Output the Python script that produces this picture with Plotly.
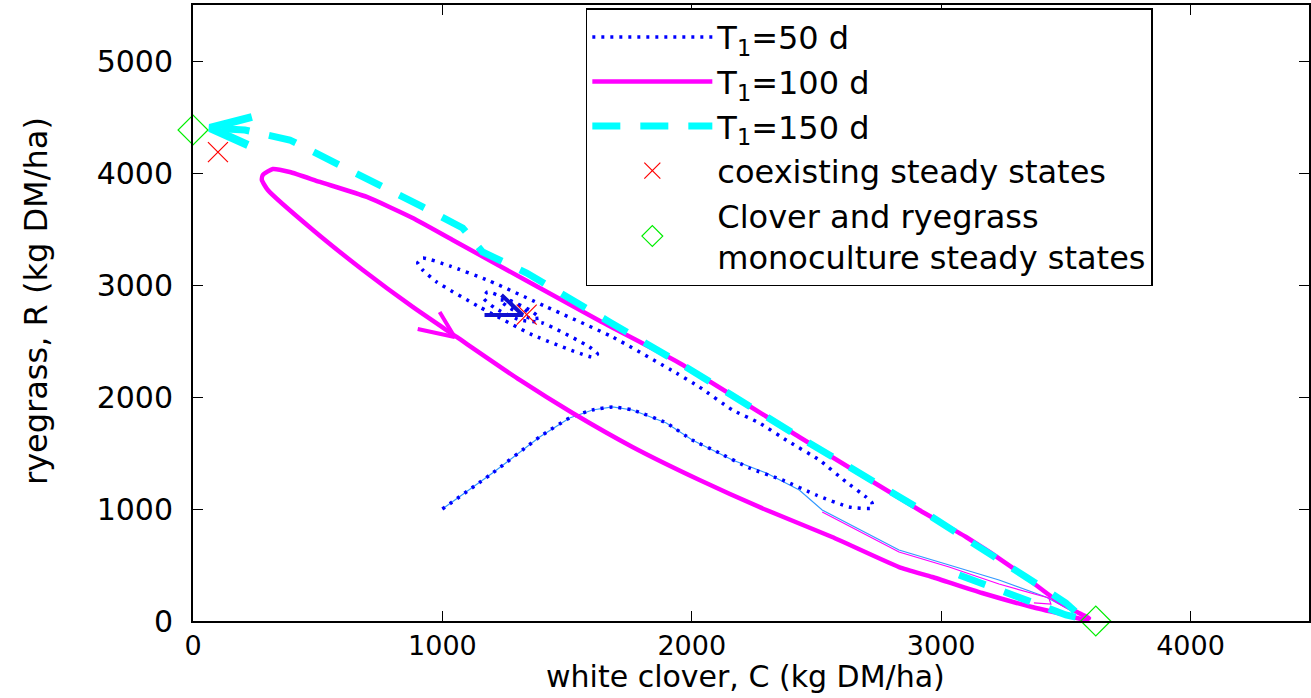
import plotly.graph_objects as go

# ---------------- data ----------------
# T1 = 50 d trajectory (blue dotted)
c50 = [1000, 1201, 1390, 1510, 1602, 1682, 1762, 1898, 2002, 2111, 2231, 2363, 2499, 2631, 2723,
       2723, 2699, 2619, 2511, 2391, 2271, 2163, 2031, 1938, 1682, 1418, 1189, 1029, 921, 901,
       921, 977, 1149, 1362, 1602, 1622, 1590, 1402, 1310, 1210, 1165, 1181, 1250, 1350, 1390,
       1350, 1270, 1230, 1290, 1342]
r50 = [1000, 1321, 1643, 1813, 1884, 1911, 1884, 1768, 1616, 1500, 1366, 1259, 1125, 1018, 1009,
       1054, 1107, 1241, 1438, 1598, 1768, 1884, 2089, 2214, 2536, 2804, 3036, 3170, 3241, 3197,
       3134, 3027, 2804, 2554, 2357, 2384, 2447, 2661, 2688, 2795, 2884, 2938, 2884, 2777, 2705,
       2705, 2795, 2866, 2848, 2759]

# initial transient (thin light-blue line)
c_thin = [1000, 1201, 1390, 1510, 1602, 1682, 1762, 1898, 2002, 2111, 2163, 2299, 2431, 2523,
          2699, 2831, 3032, 3232, 3420, 3532]
r_thin = [1000, 1321, 1643, 1813, 1884, 1911, 1884, 1768, 1616, 1500, 1438, 1321, 1170, 991,
          786, 634, 500, 366, 214, 80]

# T1 = 100 d transient (thin magenta)
c100_thin = [2523, 2699, 2831, 3032, 3232, 3432, 3440, 3372]
r100_thin = [973, 768, 616, 482, 330, 205, 152, 161]

# T1 = 100 d cycle (magenta solid)
c100 = [3593, 3552, 3460, 3300, 3100, 2912, 2431, 1950, 1630, 1041, 881, 697, 509, 388, 320,
        280, 276, 300, 481, 681, 881, 1057, 1310, 1522, 1762, 2031, 2299, 2563, 2831, 2964,
        3164, 3364, 3500, 3580, 3593]
r100 = [27, 71, 188, 455, 750, 991, 1643, 2304, 2681, 3402, 3598, 3786, 3920, 4009, 4036,
        3982, 3938, 3848, 3491, 3134, 2804, 2536, 2152, 1857, 1554, 1259, 991, 750, 482, 393,
        250, 125, 54, 9, 27]

# T1 = 150 d trajectory (cyan dashed)
c150 = [3072, 3312, 3500, 3572, 3552, 3500, 3340, 3192, 3032, 2900, 2431, 1950, 1670, 1502,
        1338, 1161, 1081, 921, 749, 577, 388, 208, 56]
r150 = [411, 205, 54, 18, 63, 161, 393, 607, 839, 1018, 1643, 2304, 2670, 2893, 3107, 3295,
        3509, 3697, 3893, 4089, 4295, 4384, 4402]

# direction arrows (arm, tip, arm)
arrow50_c = [1237, 1322, 1169]
arrow50_r = [2911, 2732, 2732]
arrow100_c = [989, 1049, 901]
arrow100_r = [2759, 2536, 2607]
arrow150_c = [236, 68, 220]
arrow150_r = [4500, 4402, 4250]

# steady states
coex_c = [100, 1338]
coex_r = [4187, 2735]
mono_c = [0, 3620]
mono_r = [4384, 0]

x_ticks = [0, 1000, 2000, 3000, 4000]
y_ticks = [0, 1000, 2000, 3000, 4000, 5000]

BLUE = "#0000ff"
MAGENTA = "#ff00ff"
CYAN = "#00ffff"
THINBLUE = "#3399ff"

fig = go.Figure()

fig.add_trace(go.Scatter(x=c_thin, y=r_thin, mode="lines", showlegend=False,
                         line=dict(color=THINBLUE, width=1.2), hoverinfo="skip"))
fig.add_trace(go.Scatter(x=c100_thin, y=r100_thin, mode="lines", showlegend=False,
                         line=dict(color=MAGENTA, width=1.2), hoverinfo="skip"))

fig.add_trace(go.Scatter(x=c50, y=r50, mode="lines", name="T<sub>1</sub>=50 d",
                         line=dict(color=BLUE, width=3.5, dash="3px,6px", shape="spline",
                                   smoothing=0.5)))
fig.add_trace(go.Scatter(x=c100, y=r100, mode="lines", name="T<sub>1</sub>=100 d",
                         line=dict(color=MAGENTA, width=4.5, shape="spline", smoothing=0.5)))
fig.add_trace(go.Scatter(x=c150, y=r150, mode="lines", name="T<sub>1</sub>=150 d",
                         line=dict(color=CYAN, width=7, dash="28px,20px")))

fig.add_trace(go.Scatter(x=arrow50_c, y=arrow50_r, mode="lines", showlegend=False,
                         line=dict(color="#1010d0", width=4)))
fig.add_trace(go.Scatter(x=arrow100_c, y=arrow100_r, mode="lines", showlegend=False,
                         line=dict(color=MAGENTA, width=4)))
fig.add_trace(go.Scatter(x=arrow150_c, y=arrow150_r, mode="lines", showlegend=False,
                         line=dict(color=CYAN, width=8)))

fig.add_trace(go.Scatter(x=coex_c, y=coex_r, mode="markers", name="coexisting steady states",
                         cliponaxis=False,
                         marker=dict(symbol="x-thin-open", size=20,
                                     line=dict(color="#ff0000", width=1.2), color="#ff0000")))
fig.add_trace(go.Scatter(x=mono_c, y=mono_r, mode="markers",
                         name="Clover and ryegrass<br>monoculture steady states",
                         cliponaxis=False,
                         marker=dict(symbol="diamond-open", size=23,
                                     line=dict(color="#00ee00", width=1.2), color="#00ee00")))

axis_common = dict(ticks="inside", ticklen=10, tickwidth=1.2, tickcolor="black",
                   showline=True, linecolor="black", linewidth=2, mirror="ticks",
                   showgrid=False, zeroline=False)

fig.update_layout(
    width=1311, height=698,
    margin=dict(l=193, r=0, t=5, b=77),
    plot_bgcolor="white", paper_bgcolor="white",
    xaxis=dict(range=[0, 4475], tickvals=x_ticks, ticktext=[str(v) for v in x_ticks],
               tickfont=dict(family="DejaVu Sans", size=27, color="black"),
               **axis_common),
    yaxis=dict(range=[0, 5500], tickvals=y_ticks, ticktext=[str(v) for v in y_ticks],
               tickfont=dict(family="DejaVu Sans", size=30, color="black"),
               ticklabelstandoff=12, **axis_common),
    legend=dict(x=0.352, y=0.995, xanchor="left", yanchor="top",
                bgcolor="white", bordercolor="black", borderwidth=1.5,
                font=dict(family="DejaVu Sans", size=32, color="black"),
                itemwidth=120, tracegroupgap=0),
    annotations=[
        dict(text="white clover, C (kg DM/ha)", xref="paper", yref="paper",
             x=0.4955, y=-0.058, xanchor="center", yanchor="top", showarrow=False,
             font=dict(family="DejaVu Sans", size=30, color="black")),
        dict(text="ryegrass, R (kg DM/ha)", xref="paper", yref="paper",
             x=-0.1413, y=0.52, xanchor="center", yanchor="middle", showarrow=False,
             textangle=-90, font=dict(family="DejaVu Sans", size=32, color="black")),
    ],
)

fig.write_html("out.html", config={"displayModeBar": False},
               post_script="document.body.style.margin='0';document.body.style.padding='0';")
